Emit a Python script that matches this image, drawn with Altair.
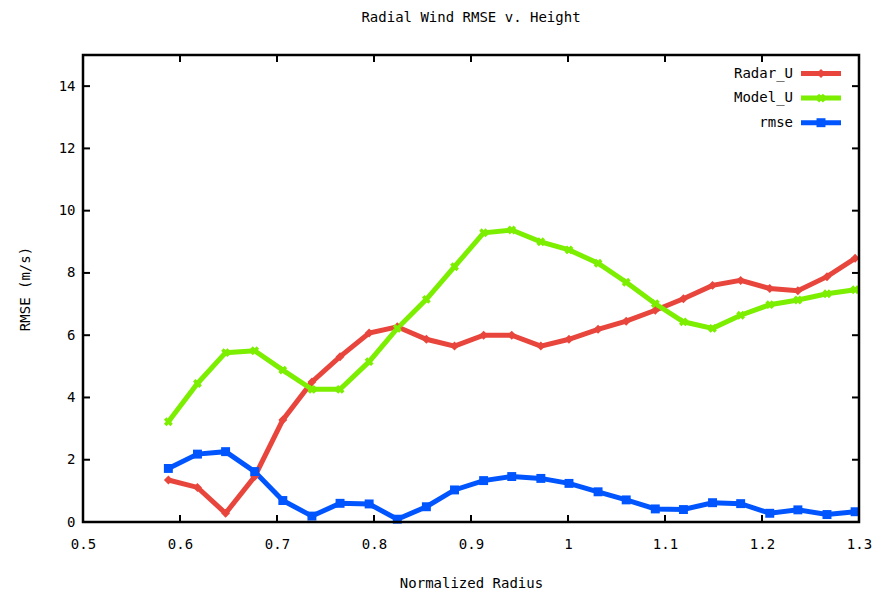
import altair as alt
import pandas as pd

# ---- data ----
radius = [0.588, 0.618, 0.647, 0.677, 0.706, 0.736, 0.765, 0.795, 0.824, 0.854,
          0.883, 0.913, 0.942, 0.972, 1.001, 1.031, 1.060, 1.090, 1.119, 1.149,
          1.178, 1.208, 1.237, 1.267, 1.296]
radar_u = [1.35, 1.11, 0.28, 1.46, 3.28, 4.50, 5.31, 6.07, 6.27, 5.87,
           5.65, 6.00, 6.00, 5.65, 5.87, 6.19, 6.45, 6.80, 7.17, 7.60,
           7.76, 7.50, 7.43, 7.88, 8.47]
model_u = [3.22, 4.45, 5.44, 5.50, 4.88, 4.26, 4.26, 5.15, 6.22, 7.15,
           8.20, 9.29, 9.38, 9.00, 8.74, 8.31, 7.70, 7.01, 6.43, 6.22,
           6.64, 6.98, 7.13, 7.33, 7.46]
rmse = [1.72, 2.18, 2.26, 1.62, 0.69, 0.19, 0.60, 0.58, 0.09, 0.49,
        1.03, 1.33, 1.46, 1.40, 1.24, 0.97, 0.71, 0.42, 0.40, 0.62,
        0.59, 0.28, 0.39, 0.24, 0.33]
series_names = ["Radar_U", "Model_U", "rmse"]
x_ticks = [0.5, 0.6, 0.7, 0.8, 0.9, 1.0, 1.1, 1.2, 1.3]
y_ticks = [0, 2, 4, 6, 8, 10, 12, 14]

title_text = "Radial Wind RMSE v. Height"
x_title = "Normalized Radius"
y_title = "RMSE (m/s)"

# ---- styles ----
colors = ["#e8453c", "#7cee00", "#0055ff"]
shapes = ["diamond", "cross", "square"]
angles = [0, 45, 0]
FONT = "DejaVu Sans Mono"
FS = 14
W, H = 776, 467
TICK = 7
LW = 5

rows = []
for name, vals in zip(series_names, [radar_u, model_u, rmse]):
    for xv, yv in zip(radius, vals):
        rows.append({"x": xv, "y": yv, "series": name})
df = pd.DataFrame(rows)

xscale = alt.Scale(domain=[0.5, 1.3], nice=False, zero=False)
yscale = alt.Scale(domain=[0, 15], nice=False)

color_enc = alt.Color("series:N", scale=alt.Scale(domain=series_names, range=colors), legend=None)

xaxis = alt.Axis(values=x_ticks, format="~g", ticks=False, domain=False, grid=False,
                 labelFlush=False,
                 labelFont=FONT, labelFontSize=FS, labelColor="black", labelPadding=15,
                 title=x_title, titleFont=FONT, titleFontSize=FS, titleFontWeight="normal",
                 titleColor="black", titlePadding=25)
yaxis = alt.Axis(values=y_ticks, ticks=False, domain=False, grid=False,
                 labelFlush=False,
                 labelFont=FONT, labelFontSize=FS, labelColor="black", labelPadding=8,
                 title=y_title, titleFont=FONT, titleFontSize=FS, titleFontWeight="normal",
                 titleColor="black", titlePadding=26)

base = alt.Chart(df)
lines = base.mark_line(strokeWidth=LW).encode(
    x=alt.X("x:Q", scale=xscale, axis=xaxis),
    y=alt.Y("y:Q", scale=yscale, axis=yaxis),
    color=color_enc,
    detail="series:N",
)

layers = [lines]
for name, c, s, a in zip(series_names, colors, shapes, angles):
    pts = alt.Chart(df[df.series == name]).mark_point(
        filled=True, shape=s, size=80, color=c, opacity=1, angle=a
    ).encode(x=alt.X("x:Q", scale=xscale), y=alt.Y("y:Q", scale=yscale))
    layers.append(pts)

# inward tick marks on all four sides (gnuplot style)
xt = pd.DataFrame({"x": x_ticks})
yt = pd.DataFrame({"y": y_ticks})
layers.append(alt.Chart(xt).mark_rule(color="black", strokeWidth=2).encode(
    x=alt.X("x:Q", scale=xscale), y=alt.value(H), y2=alt.value(H - TICK)))
layers.append(alt.Chart(xt).mark_rule(color="black", strokeWidth=2).encode(
    x=alt.X("x:Q", scale=xscale), y=alt.value(0), y2=alt.value(TICK)))
layers.append(alt.Chart(yt).mark_rule(color="black", strokeWidth=2).encode(
    y=alt.Y("y:Q", scale=yscale), x=alt.value(0), x2=alt.value(TICK)))
layers.append(alt.Chart(yt).mark_rule(color="black", strokeWidth=2).encode(
    y=alt.Y("y:Q", scale=yscale), x=alt.value(W), x2=alt.value(W - TICK)))

# plot border
layers.append(alt.Chart(pd.DataFrame({"b": [0]})).mark_rect(
    filled=False, stroke="black", strokeWidth=2.5
).encode(x=alt.value(0), x2=alt.value(W), y=alt.value(0), y2=alt.value(H)))

# gnuplot-style key: label to the left of the sample
for i, (name, c, s, a) in enumerate(zip(series_names, colors, shapes, angles)):
    yy = 18.5 + i * 24.6
    ldf = pd.DataFrame({"series": [name]})
    layers.append(alt.Chart(ldf).mark_text(
        align="right", baseline="middle", font=FONT, fontSize=FS, color="black"
    ).encode(x=alt.value(710), y=alt.value(yy), text="series:N"))
    layers.append(alt.Chart(ldf).mark_rule(color=c, strokeWidth=LW).encode(
        x=alt.value(718), x2=alt.value(758), y=alt.value(yy)))
    layers.append(alt.Chart(ldf).mark_point(
        filled=True, shape=s, size=80, color=c, opacity=1, angle=a
    ).encode(x=alt.value(738), y=alt.value(yy)))

chart = alt.layer(*layers).properties(
    width=W, height=H,
    title=alt.Title(title_text, font=FONT, fontSize=FS, fontWeight="normal",
                    color="black", anchor="middle", offset=29),
    autosize=alt.AutoSizeParams(type="none"),
    padding={"left": 83, "top": 55, "right": 18, "bottom": 70},
).configure_view(stroke=None).configure(background="white")

chart.save("out.html", embed_options={"renderer": "svg", "actions": False})
